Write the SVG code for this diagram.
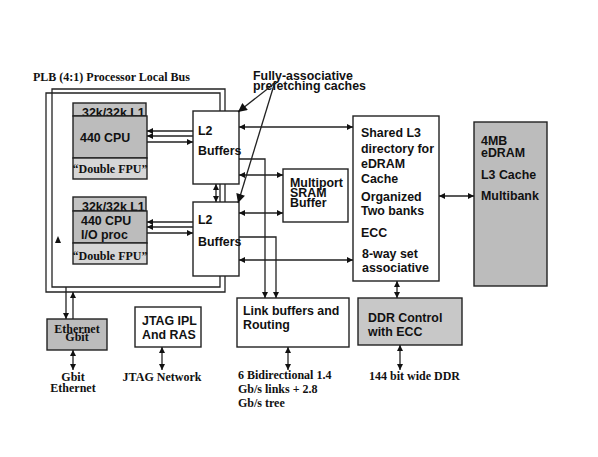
<svg xmlns="http://www.w3.org/2000/svg" width="598" height="457" viewBox="0 0 598 457">
<style>
.box{stroke:#222;stroke-width:1.4;fill:#fff}
.g1{fill:#c2c2c2}
.g2{fill:#bcbcbc}
.g3{fill:#d6d6d6}
.ln{stroke:#222;stroke-width:1.3;fill:none}
.a{font-family:"Liberation Sans",Arial,sans-serif;font-weight:bold;font-size:12.4px;fill:#111}
.t{font-family:"Liberation Serif","Times New Roman",serif;font-weight:bold;font-size:12px;fill:#111}
</style>
<defs>
<marker id="ah" viewBox="0 0 10 10" refX="10" refY="5" markerWidth="7" markerHeight="6" markerUnits="userSpaceOnUse" orient="auto-start-reverse"><path d="M0,0 L10,5 L0,10 z" fill="#111"/></marker>
<marker id="big" viewBox="0 0 10 10" refX="10" refY="5" markerWidth="13" markerHeight="9" markerUnits="userSpaceOnUse" orient="auto"><path d="M0,0 L10,5 L0,10 z" fill="#111"/></marker>
</defs>

<text class="t" x="33" y="81" font-size="12.8">PLB (4:1) Processor Local Bus</text>

<g id="bus">
<path class="ln" d="M52,287 V89 H225 V292 H46 V93 H220 V287 Z"/>
</g>

<g id="cpu1">
<rect class="box g1" x="73" y="103" width="73" height="13"/>
<text class="a" x="82" y="117" font-size="11.5">32k/32k L1</text>
<rect class="box g2" x="73" y="116" width="74" height="42"/>
<text class="a" x="80" y="142">440 CPU</text>
<rect class="box g3" x="73" y="158" width="74" height="21"/>
<text class="t" x="110" y="173" text-anchor="middle" font-size="11.5">“Double FPU”</text>
</g>

<g id="cpu2">
<rect class="box g1" x="73" y="197" width="73" height="14"/>
<text class="a" x="82" y="211" font-size="11.5">32k/32k L1</text>
<rect class="box g2" x="73" y="211" width="74" height="32"/>
<text class="a" x="81" y="225">440 CPU</text>
<text class="a" x="81" y="239">I/O proc</text>
<rect class="box g3" x="73" y="243" width="74" height="21"/>
<text class="t" x="110" y="260" text-anchor="middle" font-size="11.5">“Double FPU”</text>
</g>

<path d="M55,243 L58,236 L61,243 Z" fill="#111"/>

<g id="l2a">
<rect class="box" x="193" y="111" width="46" height="73"/>
<text class="a" x="198" y="135">L2</text>
<text class="a" x="198" y="155">Buffers</text>
</g>

<g id="l2b">
<rect class="box" x="193" y="202" width="46" height="74"/>
<text class="a" x="198" y="224">L2</text>
<text class="a" x="198" y="246">Buffers</text>
</g>

<g id="sram">
<rect class="box" x="283" y="169" width="65" height="53"/>
<text class="a" x="290" y="187">Multiport</text>
<text class="a" x="290" y="197">SRAM</text>
<text class="a" x="290" y="207">Buffer</text>
</g>

<g id="l3dir">
<rect class="box" x="353" y="116" width="86" height="165"/>
<text class="a" x="361" y="137">Shared L3</text>
<text class="a" x="361" y="153">directory for</text>
<text class="a" x="361" y="168">eDRAM</text>
<text class="a" x="361" y="183">Cache</text>
<text class="a" x="361" y="201">Organized</text>
<text class="a" x="361" y="215">Two banks</text>
<text class="a" x="361" y="237">ECC</text>
<text class="a" x="362" y="258">8-way set</text>
<text class="a" x="362" y="272">associative</text>
</g>

<g id="edram">
<rect class="box g2" x="474" y="122" width="73" height="164"/>
<text class="a" x="481" y="145">4MB</text>
<text class="a" x="481" y="157">eDRAM</text>
<text class="a" x="481" y="179">L3 Cache</text>
<text class="a" x="481" y="200">Multibank</text>
</g>

<g id="ethernet">
<rect class="box g2" x="47" y="319" width="60" height="31"/>
<text class="t" x="77" y="333" text-anchor="middle" font-size="11.5">Ethernet</text>
<text class="t" x="77" y="341" text-anchor="middle" font-size="11.5">Gbit</text>
</g>

<g id="jtag">
<rect class="box" x="135" y="307" width="66" height="40"/>
<text class="a" x="142" y="325">JTAG IPL</text>
<text class="a" x="142" y="339">And RAS</text>
</g>

<g id="link">
<rect class="box" x="237" y="298" width="112" height="49"/>
<text class="a" x="243" y="315" font-size="11.8">Link buffers and</text>
<text class="a" x="243" y="329" font-size="11.8">Routing</text>
</g>

<g id="ddr">
<rect class="box" x="358" y="298" width="104" height="47" style="fill:#c8c8c8"/>
<text class="a" x="368" y="322">DDR Control</text>
<text class="a" x="368" y="336">with ECC</text>
</g>

<g id="labels">
<text class="a" x="253" y="80" font-size="12.6">Fully-associative</text>
<text class="a" x="253" y="90" font-size="12.6">prefetching caches</text>
<text class="t" x="73" y="381" text-anchor="middle">Gbit</text>
<text class="t" x="73" y="392" text-anchor="middle">Ethernet</text>
<text class="t" x="162" y="381" text-anchor="middle">JTAG Network</text>
<text class="t" x="238" y="379">6 Bidirectional 1.4</text>
<text class="t" x="238" y="393">Gb/s links + 2.8</text>
<text class="t" x="238" y="407">Gb/s tree</text>
<text class="t" x="369" y="380">144 bit wide DDR</text>
</g>

<g id="connectors">
<line class="ln" x1="193" y1="131" x2="147" y2="131" marker-end="url(#ah)"/>
<line class="ln" x1="193" y1="136" x2="147" y2="136" marker-end="url(#ah)"/>
<line class="ln" x1="147" y1="142" x2="193" y2="142" marker-end="url(#ah)"/>
<line class="ln" x1="193" y1="222" x2="147" y2="222" marker-end="url(#ah)"/>
<line class="ln" x1="193" y1="227" x2="147" y2="227" marker-end="url(#ah)"/>
<line class="ln" x1="147" y1="233" x2="193" y2="233" marker-end="url(#ah)"/>
<line class="ln" x1="216" y1="184" x2="216" y2="202" marker-start="url(#ah)" marker-end="url(#ah)"/>
<line class="ln" x1="239" y1="127" x2="353" y2="127" marker-start="url(#ah)" marker-end="url(#ah)"/>
<line class="ln" x1="239" y1="260" x2="353" y2="260" marker-start="url(#ah)" marker-end="url(#ah)"/>
<line class="ln" x1="239" y1="175" x2="283" y2="175" marker-start="url(#ah)" marker-end="url(#ah)"/>
<line class="ln" x1="239" y1="213" x2="283" y2="213" marker-start="url(#ah)" marker-end="url(#ah)"/>
<path class="ln" d="M239,159 H265 V298" marker-end="url(#ah)"/>
<path class="ln" d="M239,237 H276 V298" marker-end="url(#ah)"/>
<line class="ln" x1="439" y1="196" x2="474" y2="196" marker-start="url(#ah)" marker-end="url(#ah)"/>
<line class="ln" x1="397" y1="281" x2="397" y2="298" marker-start="url(#ah)" marker-end="url(#ah)"/>
<line class="ln" x1="66" y1="287" x2="66" y2="319" marker-end="url(#ah)"/>
<line class="ln" x1="73" y1="319" x2="73" y2="292" marker-end="url(#ah)"/>
<line class="ln" x1="73" y1="350" x2="73" y2="370" marker-start="url(#ah)" marker-end="url(#ah)"/>
<line class="ln" x1="162" y1="347" x2="162" y2="370" marker-start="url(#ah)" marker-end="url(#ah)"/>
<line class="ln" x1="288" y1="347" x2="288" y2="370" marker-start="url(#ah)" marker-end="url(#ah)"/>
<line class="ln" x1="400" y1="345" x2="400" y2="370" marker-start="url(#ah)" marker-end="url(#ah)"/>
<line class="ln" x1="275" y1="83" x2="238" y2="112" marker-end="url(#big)"/>
<line class="ln" x1="274" y1="85" x2="238" y2="203" marker-end="url(#big)"/>
</g>
</svg>
